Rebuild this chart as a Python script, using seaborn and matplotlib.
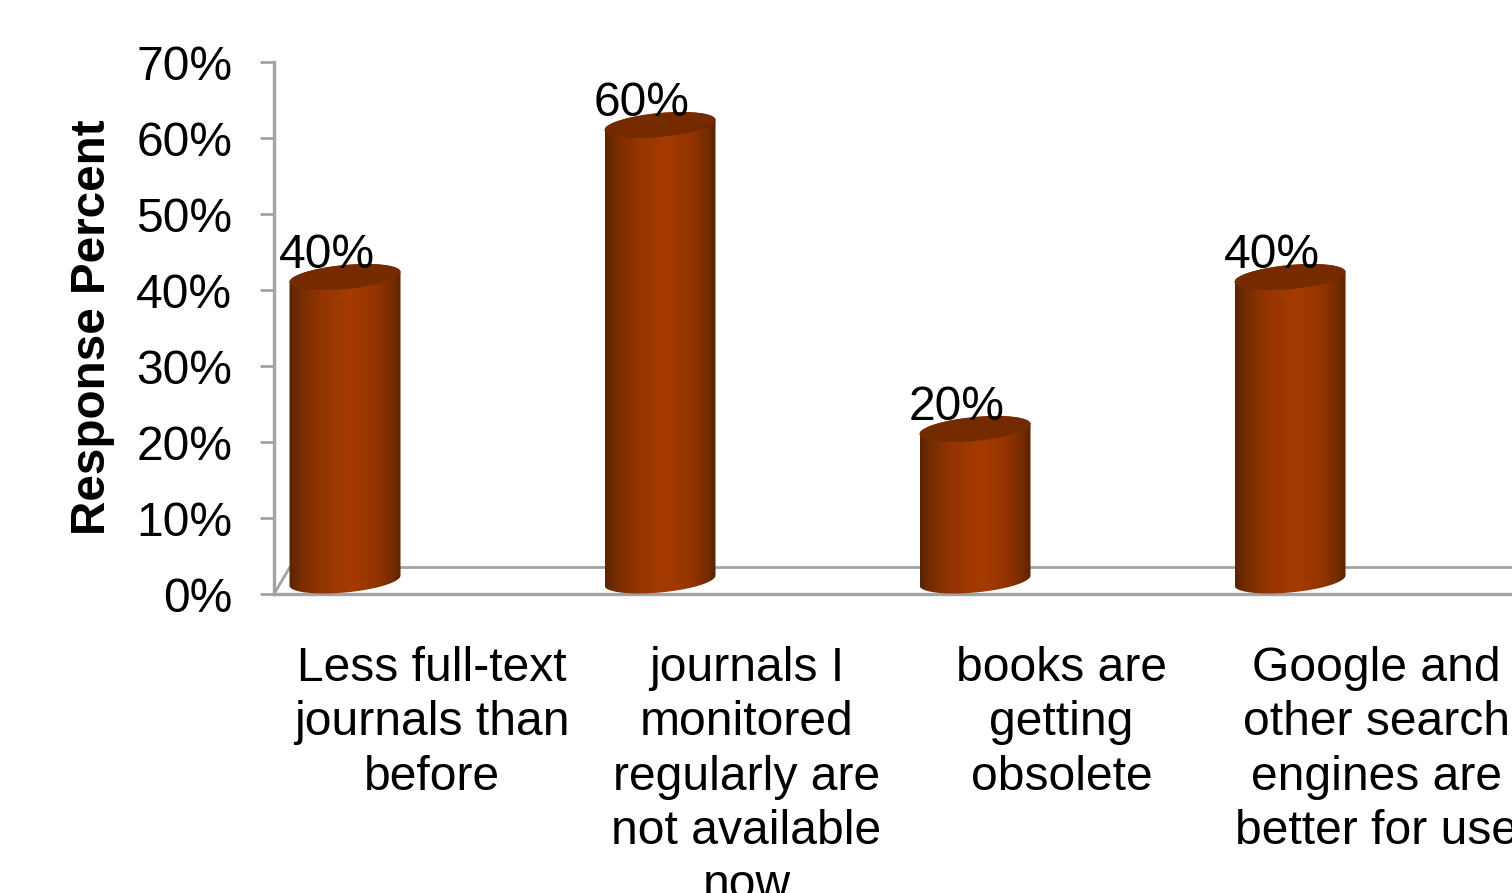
import numpy as np
import pandas as pd
import seaborn as sns
import matplotlib
matplotlib.use("Agg")
import matplotlib.pyplot as plt
from matplotlib.colors import LinearSegmentedColormap
from matplotlib.patches import Polygon
from matplotlib.ticker import PercentFormatter
from matplotlib.transforms import ScaledTranslation

categories = [
    "Less full-text\njournals than\nbefore",
    "journals I\nmonitored\nregularly are\nnot available\nnow",
    "books are\ngetting\nobsolete",
    "Google and\nother search\nengines are\nbetter for use",
]
values = [0.40, 0.60, 0.20, 0.40]
value_labels = ["40%", "60%", "20%", "40%"]
y_ticks = [0, 0.1, 0.2, 0.3, 0.4, 0.5, 0.6, 0.7]

sns.set_theme(style="white")
plt.rcParams["font.family"] = ["Liberation Sans", "DejaVu Sans"]

W, H = 1512, 893
fig = plt.figure(figsize=(W / 100, H / 100), dpi=100, facecolor="white")
ax = fig.add_axes([274 / W, (H - 594) / H, 1260 / W, 532 / H])
PX = 1 / 315.0      # x data per pixel
PY = 0.7 / 532.0    # y data per pixel
GRAY = "#a3a3a3"
FS = 34.6

df = pd.DataFrame({"cat": categories, "val": values})
sns.barplot(data=df, x="cat", y="val", width=111 / 315, color="#a33a00", ax=ax)
ax.set_xlim(-0.5, 3.5)
ax.set_ylim(0, 0.7)

cmap = LinearSegmentedColormap.from_list(
    "cyl",
    [(0, "#5a2400"), (0.12, "#7b2e00"), (0.3, "#953500"), (0.55, "#a63b00"),
     (0.78, "#933400"), (0.92, "#752c00"), (1, "#5a2400")],
)
grad = np.linspace(0, 1, 256).reshape(1, -1)


def ell(cx, cy, a, t):
    return np.column_stack([
        cx + a * np.cos(t),
        cy + (5.0 * np.cos(t) + 12.0 * np.sin(t)) * PY,
    ])


BASE = 13.5 * PY
for p, v in zip(list(ax.patches), values):
    p.set_visible(False)
    a = p.get_width() / 2
    cx = p.get_x() + a - 86.5 * PX
    bot = ell(cx, BASE, a, np.linspace(np.pi, 2 * np.pi, 80))
    top = ell(cx, v + BASE - 0.5 * PY, a, np.linspace(0, np.pi, 80))
    body = Polygon(np.vstack([bot, top]), closed=True, fc="none", ec="none",
                   transform=ax.transData)
    ax.add_patch(body)
    im = ax.imshow(grad, cmap=cmap, aspect="auto", zorder=3,
                   extent=(cx - a, cx + a, 0, v + 30 * PY))
    im.set_clip_path(body)
    cap = ell(cx, v + BASE - 0.5 * PY, a, np.linspace(0, 2 * np.pi, 160))
    ax.add_patch(Polygon(cap, closed=True, fc="#752a00", ec="none", zorder=4))

for i, (v, s) in enumerate(zip(values, value_labels)):
    ax.annotate(s, xy=(i - 86 * PX, v), xytext=(-19 * 0.72, 22 * 0.72),
                textcoords="offset points", ha="center", va="baseline",
                fontsize=FS, color="black", zorder=6)

ax.set_xlim(-0.5, 3.5)
ax.set_ylim(0, 0.7)

# floor of the 3D plot
ax.plot([-0.5 + 16 * PX, 3.5], [27 * PY, 27 * PY], color=GRAY, lw=2.0, zorder=1,
        solid_capstyle="butt")
ax.plot([-0.5, -0.5 + 16 * PX], [0, 27 * PY], color=GRAY, lw=2.0, zorder=1)

for s in ["top", "right"]:
    ax.spines[s].set_visible(False)
for s in ["left", "bottom"]:
    ax.spines[s].set_color(GRAY)
    ax.spines[s].set_linewidth(2.4)

ax.yaxis.set_major_formatter(PercentFormatter(1, decimals=0))
ax.set_yticks(y_ticks)
ax.tick_params(axis="y", left=True, length=10, width=2.0, color=GRAY, pad=20,
               labelsize=FS, labelcolor="black")
for t in ax.get_yticklabels():
    t.set_transform(t.get_transform() + ScaledTranslation(0, -1 / 100, fig.dpi_scale_trans))
ax.tick_params(axis="x", bottom=False, length=0, pad=37.5, labelsize=FS, labelcolor="black")
for t in ax.get_xticklabels():
    t.set_linespacing(1.266)
ax.set_xlabel("")
ax.set_ylabel("")
fig.text(93 / W, (H - 327) / H, "Response Percent", rotation=90, ha="center", va="center",
         fontsize=34.3, fontweight="bold", color="black")

fig.savefig("out.png", dpi=100, facecolor="white")
